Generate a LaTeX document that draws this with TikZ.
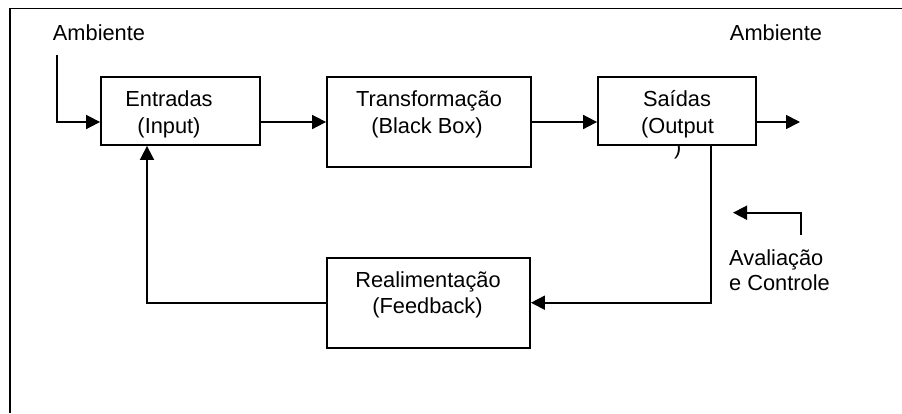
\documentclass[tikz,border=0pt]{standalone}
\usepackage{fontspec}
\setmainfont{Liberation Sans}
\usetikzlibrary{arrows.meta}
\begin{document}
\begin{tikzpicture}[x=1pt,y=-1pt,
  every node/.style={inner sep=0pt},
  box/.style={draw, line width=1.8pt, minimum width=#1, inner sep=0pt},
  txt/.style={font=\fontsize{21.8}{25}\selectfont, anchor=base},
  conn/.style={line width=1.7pt, -{Triangle[length=14pt,width=14pt]}},
  frame/.style={line width=1.4pt}]
\useasboundingbox (0,0) rectangle (902,413);

% outer frame (left and top edges only)
\draw[frame] (10,413) -- (10,8.5) -- (902,8.5);

% blocks
\node[box=159pt, minimum height=68pt] (in)  at (180.5,111) {};
\node[box=204pt, minimum height=90pt] (tr)  at (429,122)   {};
\node[box=158pt, minimum height=68pt] (out) at (677,111)   {};
\node[box=203pt, minimum height=90pt] (fb)  at (428.5,302.7) {};

% block texts
\node[txt] (inA) at (169,106.7) {Entradas};
\node[txt] (inB) at (169,133)   {(Input)};
\node[txt] (trA) at (429,106.7) {Transformação};
\node[txt] (trB) at (427,133)   {(Black Box)};
\node[txt] (outA) at (677,106.7) {Saídas};
\node[txt] (outB) at (677.5,133) {(Output};
\begin{scope}
  \clip (600,146.5) rectangle (760,170);
  \node[txt] (outC) at (677.7,154) {)};
\end{scope}
\node[txt] (fbA) at (428,287.3) {Realimentação};
\node[txt] (fbB) at (427.5,313.3) {(Feedback)};

% environment and control labels
\node[txt] (ambL) at (99,40) {Ambiente};
\node[txt] (ambR) at (776,40) {Ambiente};
\node[txt, anchor=base west] (avA) at (729,265) {Avaliação};
\node[txt, anchor=base west] (avB) at (729,290.5) {e Controle};

% helper coordinates
\coordinate (ay) at (0,122);
\coordinate (ambS) at (57,55);
\coordinate (exit) at (800,122);
\coordinate (dx) at (710.7,0);
\coordinate (ux) at (147,0);
\coordinate (cS) at (801,235);
\coordinate (cC) at (801,212.7);
\coordinate (cE) at (733,212.7);

% connectors
\draw[conn] (ambS) |- (in.west |- ay);
\draw[conn] (in.east |- ay) -- (tr.west |- ay);
\draw[conn] (tr.east |- ay) -- (out.west |- ay);
\draw[conn] (out.east |- ay) -- (exit);
\draw[conn] (out.south -| dx) |- (fb.east);
\draw[conn] (fb.west) -| (in.south -| ux);
\draw[conn] (cS) -- (cC) -- (cE);
\end{tikzpicture}
\end{document}
